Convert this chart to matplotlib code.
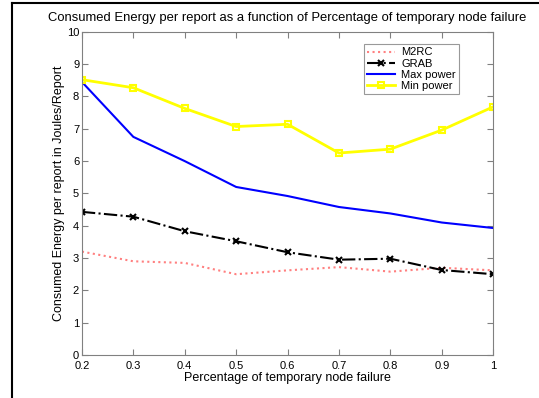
import matplotlib
matplotlib.use('Agg')
import matplotlib.pyplot as plt
from matplotlib.lines import Line2D

plt.rcParams['font.family'] = ['Liberation Sans', 'DejaVu Sans']

failure = [0.2, 0.3, 0.4, 0.5, 0.6, 0.7, 0.8, 0.9, 1.0]
m2rc = [3.2, 2.9, 2.85, 2.5, 2.62, 2.72, 2.58, 2.7, 2.62]
grab = [4.43, 4.28, 3.83, 3.52, 3.18, 2.95, 2.98, 2.63, 2.5]
max_power = [8.45, 6.75, 6.0, 5.2, 4.92, 4.58, 4.38, 4.1, 3.93]
min_power = [8.52, 8.27, 7.63, 7.07, 7.14, 6.25, 6.37, 6.96, 7.68]
xticks = [0.2, 0.3, 0.4, 0.5, 0.6, 0.7, 0.8, 0.9, 1]

fig = plt.figure(figsize=(5.39, 3.98), dpi=100)
ax = fig.add_axes([0.152, 0.108, 0.763, 0.812])

ax.plot(failure, m2rc, color='#ff8080', linestyle=':', linewidth=1.5, label='M2RC')
ax.plot(failure, grab, color='black', linestyle='-.', linewidth=1.5,
        marker='x', markersize=4, markeredgewidth=1.5, label='GRAB')
ax.plot(failure, max_power, color='#0000ff', linewidth=1.5, label='Max power')
ax.plot(failure, min_power, color='#ffff00', linewidth=2, marker='s', markersize=5,
        markerfacecolor='none', markeredgecolor='#ffff00', markeredgewidth=1.5,
        label='Min power')

ax.set_xlim(0.2, 1)
ax.set_ylim(0, 10)
ax.set_xticks(xticks)
ax.set_xticklabels(['0.2', '0.3', '0.4', '0.5', '0.6', '0.7', '0.8', '0.9', '1'])
ax.set_yticks(range(0, 11))
ax.tick_params(direction='in', top=True, right=True, labelsize=8, length=4,
               color='#808080')
ax.tick_params(axis='x', pad=4)
ax.tick_params(axis='y', pad=2)
for s in ax.spines.values():
    s.set_color('#808080')

ax.set_xlabel('Percentage of temporary node failure', fontsize=9, labelpad=1)
ax.set_ylabel('Consumed Energy per report in Joules/Report', fontsize=9, labelpad=1)
ax.set_title('Consumed Energy per report as a function of Percentage of temporary node failure',
             fontsize=9.4, pad=8)

leg = ax.legend(loc='upper left', bbox_to_anchor=(0.685, 0.962), fontsize=8,
                frameon=True, fancybox=False, borderpad=0.3, labelspacing=0.1,
                handlelength=2.5, handletextpad=0.6, borderaxespad=0)
leg.get_frame().set_edgecolor('#808080')
leg.get_frame().set_linewidth(0.8)

# outer frame lines on left and top
fig.add_artist(Line2D([12 / 539, 12 / 539], [0, 1 - 3 / 398], color='black', linewidth=1.5))
fig.add_artist(Line2D([12 / 539, 1], [1 - 3 / 398, 1 - 3 / 398], color='black', linewidth=1.5))

fig.savefig('out.png', dpi=100)
